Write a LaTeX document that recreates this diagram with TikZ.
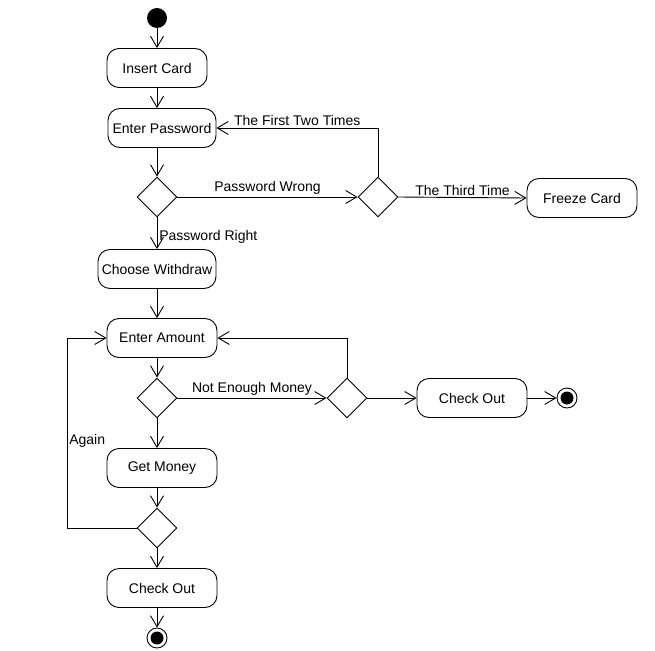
\documentclass[tikz,border=0pt]{standalone}
\usepackage{fontspec}
\setmainfont{Liberation Sans}
\usetikzlibrary{arrows.meta,shapes.geometric}
\tikzset{
  activity/.style={shape=rectangle,draw,rounded corners=12pt,minimum height=39pt,inner sep=0pt},
  decision/.style={shape=diamond,draw,minimum width=40pt,minimum height=40pt,inner sep=0pt},
  startdot/.style={shape=circle,fill,minimum size=20pt,inner sep=0pt},
  enddot/.style={shape=circle,draw,minimum size=20pt,inner sep=0pt,
    path picture={\fill (path picture bounding box.center) circle (6.5pt);}},
  guard/.style={inner sep=1.8pt}
}

\begin{document}
\begin{tikzpicture}[x=1pt,y=-1pt,>={Straight Barb[length=11pt,width=13pt]},line width=0.9pt,
  every node/.style={font=\fontsize{14}{16}\selectfont}]
					\useasboundingbox[fill=white] (0,0) rectangle (655,650);
					\node (start) [startdot] at (157,18) {};
					\node (insert) [activity,minimum width=100pt] at (157,68) {Insert Card};
					\node (password) [activity,minimum width=108pt] at (162,128) {Enter Password};
					\node (check) [decision] at (157,197) {};
					\node (count) [decision] at (378,197) {};
					\node (freeze) [activity,minimum width=110pt] at (582,198) {Freeze Card};
					\node (withdraw) [activity,minimum width=118pt] at (157,269) {Choose Withdraw};
					\node (amount) [activity,minimum width=110pt] at (162,338) {Enter Amount};
					\node (enough) [decision] at (157,398) {};
					\node (balance) [decision] at (347,398) {};
					\node (checkoutA) [activity,minimum width=110pt] at (472,398) {Check Out};
					\node (endA) [enddot] at (567,398) {};
					\node (money) [activity,minimum width=110pt] at (162,468) {Get Money};
					\node (repeat) [decision] at (157,528) {};
					\node (checkoutB) [activity,minimum width=110pt] at (162,588) {Check Out};
					\node (endB) [enddot] at (157,638) {};
					\coordinate (loop) at (67,338);

					\draw[->] (start) -- (insert);
					\draw[->] (insert.south) -- (insert.south |- password.north);
					\draw[->] (password.south -| check) -- (check.north);
					\draw[->] (check.east) -- node [guard,above] {Password Wrong} (count.west);
					\draw[->] (count.north) |- node [guard,pos=0.75,above] {The First Two Times} (password.east);
					\draw[->] (count.east) -- node [guard,above] {The Third Time} (freeze.west);
					\draw[->] (check.south) -- node [guard,pos=0.6,right] {Password Right} (withdraw.north);
					\draw[->] (withdraw.south) -- (withdraw.south |- amount.north);
					\draw[->] (amount.south -| enough) -- (enough.north);
					\draw[->] (enough.east) -- node [guard,above] {Not Enough Money} (balance.west);
					\draw[->] (balance.north) |- (amount.east);
					\draw[->] (balance.east) -- (checkoutA.west);
					\draw[->] (checkoutA.east) -- (endA.west);
					\draw[->] (enough.south) -- (enough.south |- money.north);
					\draw[->] (money.south -| repeat) -- (repeat.north);
					\draw[->] (repeat.west) -| node [guard,pos=0.73,right] {Again} (loop) -- (amount.west);
					\draw[->] (repeat.south) -- (repeat.south |- checkoutB.north);
					\draw[->] (checkoutB.south -| endB) -- (endB.north);
				\end{tikzpicture}
\end{document}
